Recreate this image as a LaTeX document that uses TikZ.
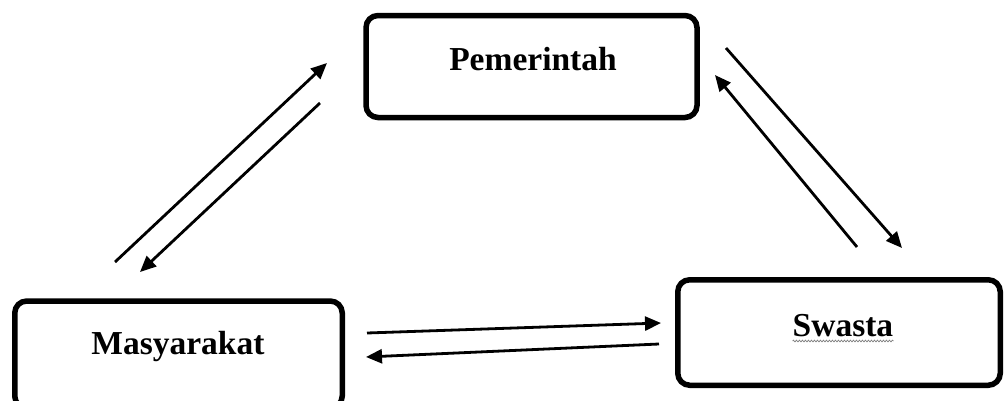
\documentclass[tikz,border=0pt]{standalone}
\usepackage{fontspec}
\setmainfont{Liberation Serif}
\usetikzlibrary{arrows.meta,decorations.pathmorphing}
\tikzset{
  actor/.style={draw, line width=5.5pt, rounded corners=12pt, inner sep=0pt},
  actorname/.style={anchor=base, font=\fontsize{33.5}{38}\selectfont\bfseries, inner sep=0pt},
  flow/.style={line width=2.8pt, -{Triangle[length=16pt,width=14pt]}}
}
\begin{document}
\begin{tikzpicture}[x=1pt,y=-1pt]
\useasboundingbox (0,0) rectangle (1005,400);
\begin{scope}
\clip (0,0) rectangle (1005,400);
% the three parties
\node[actor, minimum width=331pt, minimum height=102pt] (pem) at (531.5,66.5) {};
\node[actor, minimum width=322.5pt, minimum height=105.5pt] (swa) at (839,332.5) {};
\node[actor, minimum width=327.5pt, minimum height=107pt] (mas) at (178.5,354.5) {};
\end{scope}
\node[actorname] (pemtxt) at (533,70) {Pemerintah};
\node[actorname] (swatxt) at (843,336) {Swasta};
\node[actorname] (mastxt) at (178,354) {Masyarakat};
% spelling underline below Swasta
\draw[gray, line width=0.7pt, decorate, decoration={snake, amplitude=0.8pt, segment length=3pt}]
  ([yshift=-5pt]swatxt.base west) -- ([yshift=-5pt]swatxt.base east);
% end points of the exchanges
\coordinate (a1) at (115,262); \coordinate (a2) at (327,63);
\coordinate (b1) at (320,103); \coordinate (b2) at (140,272);
\coordinate (c1) at (726,48);  \coordinate (c2) at (902,248);
\coordinate (d1) at (857,247); \coordinate (d2) at (715,75);
\coordinate (e1) at (367,333); \coordinate (e2) at (661,323);
\coordinate (f1) at (659,344); \coordinate (f2) at (366,357);
\draw[flow] (a1) -- (a2);
\draw[flow] (b1) -- (b2);
\draw[flow] (c1) -- (c2);
\draw[flow] (d1) -- (d2);
\draw[flow] (e1) -- (e2);
\draw[flow] (f1) -- (f2);
\end{tikzpicture}
\end{document}
